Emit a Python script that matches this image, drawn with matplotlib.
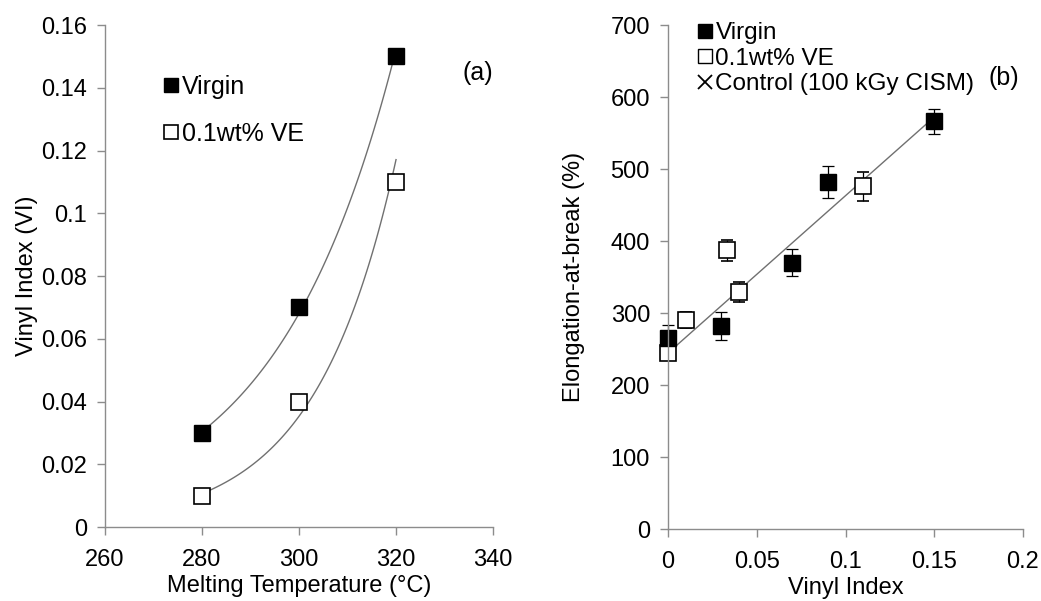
import numpy as np
import matplotlib
matplotlib.use("Agg")
import matplotlib.pyplot as plt
from matplotlib.lines import Line2D

plt.rcParams['font.family'] = ['Liberation Sans', 'DejaVu Sans']

# (a) vinyl index vs melting temperature
melt_temp = [280, 300, 320]
vi_virgin = [0.03, 0.07, 0.15]
vi_ve = [0.01, 0.04, 0.11]

# (b) elongation-at-break vs vinyl index
vi_b_virgin = [0.0, 0.03, 0.07, 0.09, 0.15]
elong_virgin = [265, 282, 370, 482, 566]
err_virgin = [19, 19, 19, 22, 17]
vi_b_ve = [0.0, 0.01, 0.033, 0.04, 0.11]
elong_ve = [245, 290, 387, 329, 476]
err_ve = [10, 11, 15, 14, 20]

gray = '#8c8c8c'
line_gray = '#707070'
fs = 17

fig = plt.figure(figsize=(10.41, 6.01), dpi=100)
ax1 = fig.add_axes([0.1009, 0.1231, 0.3727, 0.8353])
ax2 = fig.add_axes([0.6417, 0.1198, 0.3410, 0.8386])


def style(ax):
    for s in ['top', 'right']:
        ax.spines[s].set_visible(False)
    for s in ['left', 'bottom']:
        ax.spines[s].set_color(gray)
        ax.spines[s].set_linewidth(1.0)
    ax.tick_params(direction='out', length=6, width=1.0, color=gray,
                   labelsize=fs, pad=7)
    ax.tick_params(axis='x', pad=10)


# exponential trend lines
def exp_fit(x, y):
    b, a = np.polyfit(x, np.log(y), 1)
    xs = np.linspace(min(x), max(x), 100)
    return xs, np.exp(a + b * xs)


xs, ys = exp_fit(melt_temp, vi_virgin)
ax1.plot(xs, ys, color=line_gray, lw=1.0)
xs, ys = exp_fit(melt_temp, vi_ve)
ax1.plot(xs, ys, color=line_gray, lw=1.0)
ax1.plot(melt_temp, vi_virgin, 's', ms=11, mfc='black', mec='black', label='Virgin')
ax1.plot(melt_temp, vi_ve, 's', ms=11, mfc='white', mec='black', mew=1.2, label='0.1wt% VE')
ax1.set_xlim(260, 340)
ax1.set_ylim(0, 0.16)
ax1.set_xticks([260, 280, 300, 320, 340])
ax1.set_yticks(np.arange(0, 0.161, 0.02))
ax1.set_yticklabels(['0', '0.02', '0.04', '0.06', '0.08', '0.1', '0.12', '0.14', '0.16'])
style(ax1)
ax1.set_xlabel('Melting Temperature (°C)', fontsize=fs, labelpad=3)
ax1.set_ylabel('Vinyl Index (VI)', fontsize=fs, labelpad=2)
ax1.text(0.96, 0.905, '(a)', transform=ax1.transAxes, fontsize=fs + 1, ha='center', va='center')
ax1.legend(loc='upper left', bbox_to_anchor=(0.125, 0.92), frameon=False, fontsize=fs + 1,
           handlelength=0.6, handletextpad=0.15, labelspacing=0.9, markerscale=0.9,
           borderaxespad=0)

# linear trend of the virgin series
m, c = np.polyfit(vi_b_virgin, elong_virgin, 1)
xl = np.linspace(0.002, 0.15, 10)
ax2.plot(xl, m * xl + c, color=line_gray, lw=1.0)
ax2.errorbar(vi_b_ve, elong_ve, yerr=err_ve, fmt='s', ms=11, mfc='white', mec='black',
             mew=1.2, ecolor='black', elinewidth=0.9, capsize=4, capthick=0.9, clip_on=False)
ax2.errorbar(vi_b_virgin, elong_virgin, yerr=err_virgin, fmt='s', ms=11, mfc='black',
             mec='black', ecolor='black', elinewidth=0.9, capsize=4, capthick=0.9, clip_on=False)
ax2.set_xlim(0, 0.2)
ax2.set_ylim(0, 700)
ax2.set_xticks([0, 0.05, 0.1, 0.15, 0.2])
ax2.set_xticklabels(['0', '0.05', '0.1', '0.15', '0.2'])
ax2.set_yticks(range(0, 701, 100))
style(ax2)
ax2.set_xlabel('Vinyl Index', fontsize=fs, labelpad=3)
ax2.set_ylabel('Elongation-at-break (%)', fontsize=fs, labelpad=18)
ax2.text(0.945, 0.895, '(b)', transform=ax2.transAxes, fontsize=fs + 1, ha='center', va='center')

handles = [
    Line2D([], [], ls='none', marker='s', ms=10, mfc='black', mec='black'),
    Line2D([], [], ls='none', marker='s', ms=10, mfc='white', mec='black'),
    Line2D([], [], ls='none', marker='x', ms=10, mec='black', mew=1.3),
]
ax2.legend(handles, ['Virgin', '0.1wt% VE', 'Control (100 kGy CISM)'], loc='upper left',
           bbox_to_anchor=(0.055, 1.025), frameon=False, fontsize=fs + 0.5, handlelength=0.6,
           handletextpad=0.15, labelspacing=0.15, borderaxespad=0)

fig.savefig('out.png', dpi=100)
